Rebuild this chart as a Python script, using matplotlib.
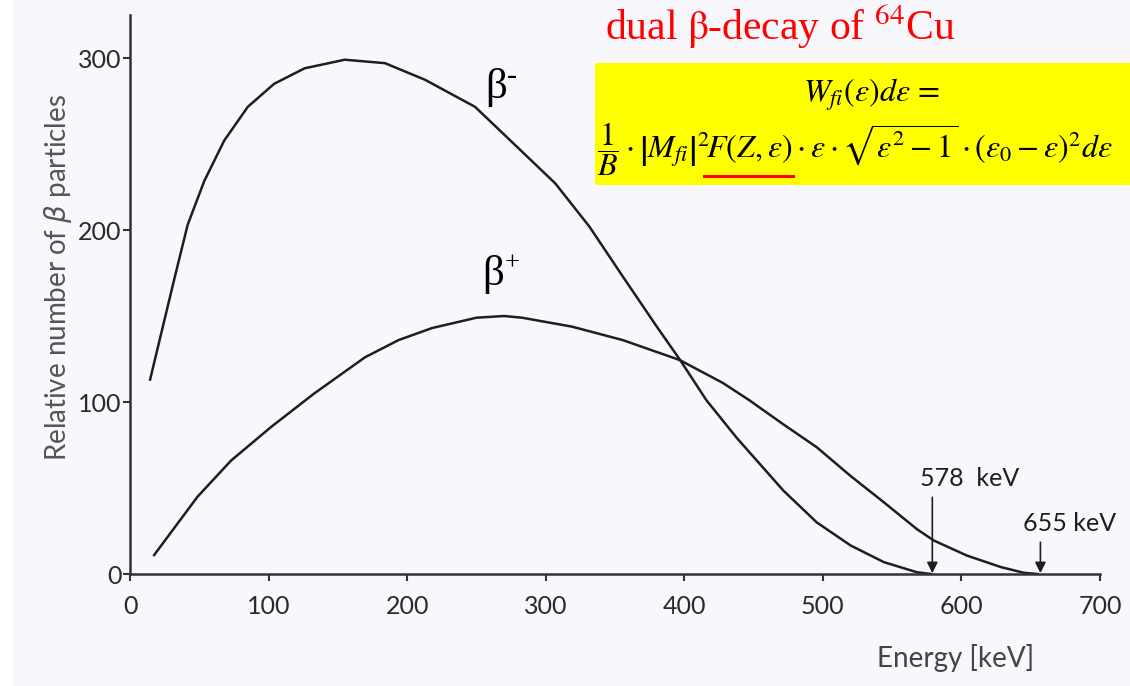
import matplotlib.pyplot as plt
from matplotlib.patches import Rectangle
from matplotlib.lines import Line2D

# data (energy in keV, relative counts)
e_minus = [14.5, 32, 41.6, 53.6, 68, 85, 104, 126, 155, 184, 213, 249, 283, 307, 331.5,
           355.6, 380, 397, 416, 438, 471.5, 495.6, 520, 544, 568, 578]
n_minus = [113, 171.6, 203, 228.5, 252, 271.6, 285, 294, 299, 297, 287.3, 271.6, 245.5, 227, 202,
           173, 144, 124.4, 101, 79, 48.5, 30, 16.6, 6.9, 1, 0]

e_plus = [17.4, 48.8, 73, 102, 133, 169.6, 193.8, 218, 250, 270, 283, 319, 355.6, 396.7, 428,
          447, 471.5, 495.6, 520, 544, 568, 580, 604, 628.6, 645, 655]
n_plus = [11, 45, 66, 85.6, 105, 126, 136, 143, 149, 150, 149, 143.8, 136, 124.4, 111,
          101, 87, 73.7, 57, 41.7, 26, 19.5, 10.7, 4, 0.7, 0]

endpoints = [579, 657]
endpoint_tops = [44.6, 18.5]
endpoint_labels = ['578  keV', '655 keV']
xticks = [0, 100, 200, 300, 400, 500, 600, 700]
yticks = [0, 100, 200, 300]

W, H = 1130, 686
fig = plt.figure(figsize=(11.3, 6.86), dpi=100, facecolor='white')

# faint tint of the scanned page
fig.add_artist(Rectangle((13 / W, 0), 1, 1, transform=fig.transFigure,
                         facecolor='#f8f7fc', edgecolor='none', zorder=-5))

ax = fig.add_axes([130 / W, 1 - 574 / H, 970 / W, 559 / H])
ax.set_facecolor('none')

ax.plot(e_minus, n_minus, color='#1e1e1e', lw=1.8)
ax.plot(e_plus, n_plus, color='#1e1e1e', lw=1.8)

ax.set_xlim(0, 700)
ax.set_ylim(0, 325)
ax.set_xticks(xticks)
ax.set_yticks(yticks)

tick_font = dict(family='Lato', size=18, color='#2a2a2a')
ax.set_xticklabels([str(t) for t in xticks], **tick_font)
ax.set_yticklabels([str(t) for t in yticks], **tick_font)
ax.tick_params(direction='out', length=5, width=1.5, color='#333333')
ax.tick_params(axis='y', pad=1)
ax.tick_params(axis='x', pad=10)

for s in ['top', 'right']:
    ax.spines[s].set_visible(False)
for s in ['left', 'bottom']:
    ax.spines[s].set_linewidth(1.8)
    ax.spines[s].set_color('#333333')

ax.set_xlabel('Energy [keV]', family='Lato', size=20, color='#444444')
ax.xaxis.set_label_coords(0.851, -0.125)
ax.set_ylabel(r'Relative number of $\beta$ particles', family='Lato', size=20, color='#555555')
ax.yaxis.set_label_coords(-0.058, 0.53)

# endpoint arrows
for e, lab, ytop, ytxt, dx in zip(endpoints, endpoint_labels, endpoint_tops, [51, 25], [27, 21]):
    ax.annotate('', xy=(e, 0.5), xytext=(e, ytop),
                arrowprops=dict(arrowstyle='-|>', color='#1e1e1e', lw=1.2,
                                mutation_scale=16, shrinkA=0, shrinkB=0))
    ax.text(e + dx, ytxt, lab, family='Lato', size=18, color='#1e1e1e',
            ha='center', va='baseline')

# beta labels (sign as small superscript)
for x, y, sign in [(264, 283, '-'), (262, 174, '+')]:
    ax.text(x, y, 'β', family='Liberation Serif', size=31, ha='center', va='center')
    ax.annotate(sign, xy=(x, y), xytext=(8, 8), textcoords='offset points',
                family='Liberation Serif', size=19 if sign == '+' else 22,
                ha='left', va='center')

# title and formula box
fig.text(605 / W, 1 - 40 / H, r'dual $\mathrm{\beta}$-decay of $^{64}$Cu', color='red',
         family='Liberation Serif', size=30, math_fontfamily='stix', va='baseline')

fig.add_artist(Rectangle((595 / W, 1 - 185 / H), 540 / W, 122 / H, transform=fig.transFigure,
                         facecolor='#ffff00', edgecolor='none', zorder=1))
fig.text(872 / W, 1 - 95 / H, r'$W_{fi}(\varepsilon)d\varepsilon\,=$', size=23,
         ha='center', va='center', math_fontfamily='stix', zorder=2)
fig.text(597 / W, 1 - 149 / H,
         r'$\dfrac{1}{B}\cdot\left|M_{fi}\right|^2\!F(Z,\varepsilon)\cdot\varepsilon\cdot'
         r'\sqrt{\varepsilon^2-1}\cdot(\varepsilon_0-\varepsilon)^2d\varepsilon$',
         size=23, ha='left', va='center', math_fontfamily='stix', zorder=2)
# red underline under F(Z, eps)
fig.add_artist(Line2D([704 / W, 793 / W], [1 - 176 / H, 1 - 176 / H], transform=fig.transFigure,
                      color='red', lw=2.2, zorder=3))

plt.savefig('out.png', dpi=100)
